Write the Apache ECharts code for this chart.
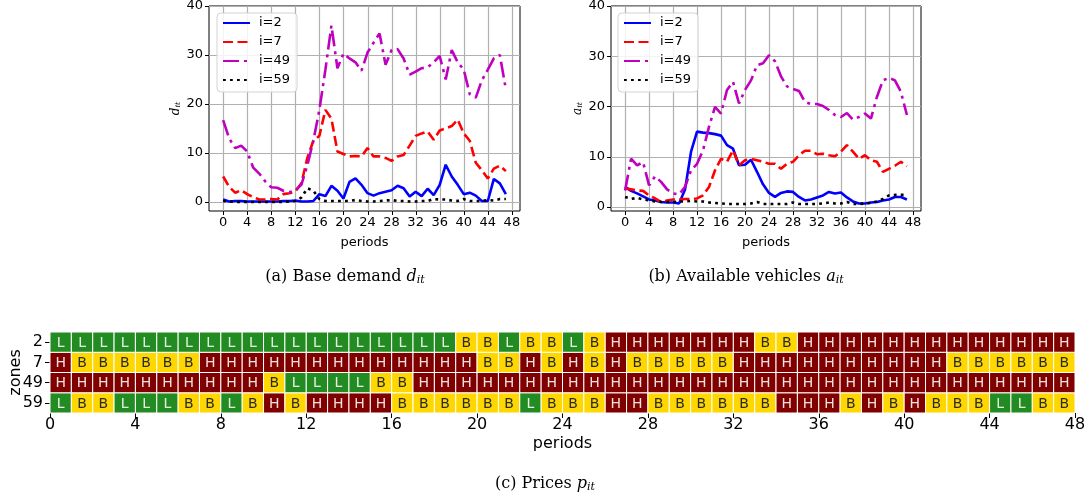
<!DOCTYPE html>
<html><head><meta charset="utf-8">
<script src="https://cdn.jsdelivr.net/npm/echarts@6/dist/echarts.min.js"></script>
<style>html,body{margin:0;padding:0;background:#fff}#c{width:1089px;height:497px}</style>
</head><body><div id="c"></div>
<script>
// ---------- data ----------
const periods = Array.from({length: 48}, (_, k) => k);
const seriesNames = ['i=2', 'i=7', 'i=49', 'i=59'];
const xTicks = [0, 4, 8, 12, 16, 20, 24, 28, 32, 36, 40, 44, 48];
const yTicks = [0, 10, 20, 30, 40];

// (a) base demand d_it
const demand2  = [0.5,0.1,0.2,0.2,0.1,0.1,0.1,0.1,0.1,0.1,0.2,0.2,0.3,0.1,0.1,0.2,1.6,1.2,3.3,2.3,0.7,4.1,4.8,3.5,1.8,1.3,1.8,2.1,2.4,3.3,2.8,1.1,2.1,1.2,2.7,1.4,3.5,7.6,5.2,3.5,1.6,1.9,1.3,0.2,0.2,4.7,3.8,1.6];
const demand7  = [5.2,3.1,1.9,2.4,1.6,1.0,0.5,0.5,0.6,0.5,1.6,1.8,2.1,3.8,9.0,12.5,13.5,18.8,17.0,10.3,9.8,9.3,9.4,9.3,11.0,9.3,9.3,9.0,8.4,9.3,9.6,11.5,13.5,14.0,14.4,12.7,14.6,15.0,15.5,16.8,14.0,12.5,8.0,6.5,4.8,6.8,7.4,6.3];
const demand49 = [16.7,13.0,11.0,11.5,10.3,7.0,5.8,4.2,3.0,2.9,2.3,2.0,2.4,3.5,7.5,12.5,18.8,27.0,36.0,27.3,30.3,29.3,28.5,26.8,30.5,32.5,34.4,28.0,31.0,31.2,29.3,26.0,26.6,27.3,27.5,28.5,29.8,25.0,31.0,28.5,27.0,22.0,21.3,24.8,27.0,29.3,30.0,23.0];
const demand59 = [0.2,0.1,0.0,0.0,0.0,0.0,0.0,0.0,0.0,0.0,0.0,0.1,0.2,0.9,2.8,2.3,0.6,0.2,0.2,0.2,0.2,0.2,0.4,0.2,0.1,0.1,0.2,0.3,0.4,0.2,0.2,0.1,0.1,0.2,0.2,0.6,0.5,0.5,0.3,0.2,0.6,0.2,0.2,0.2,0.4,0.3,0.6,0.6];

// (b) available vehicles a_it
const avail2  = [4.0,3.2,2.7,2.1,1.5,1.3,1.0,0.9,0.9,0.7,3.5,11.0,15.0,14.8,14.7,14.5,14.2,12.3,11.6,8.3,8.4,9.4,7.0,4.5,2.8,2.0,2.8,3.1,3.0,2.0,1.3,1.5,1.9,2.3,3.0,2.7,2.9,1.9,1.1,0.7,0.7,0.9,1.0,1.3,1.5,2.0,2.0,1.5];
const avail7  = [3.7,3.5,3.3,3.2,2.3,1.7,1.0,1.3,1.5,1.5,1.6,1.6,1.7,2.3,4.0,7.3,9.6,9.0,11.3,8.3,9.3,9.6,9.3,9.0,8.6,8.6,7.6,8.6,9.0,10.3,11.2,11.2,10.5,10.6,10.3,10.1,11.0,12.3,11.0,9.6,10.3,9.3,9.0,7.0,7.6,8.2,9.0,8.1];
const avail49 = [3.3,9.6,8.3,8.9,4.3,6.1,5.0,3.5,2.7,2.5,4.0,7.3,8.6,11.3,16.0,19.9,18.6,23.3,24.9,20.6,23.3,25.2,28.2,28.6,30.2,29.0,26.0,24.0,23.5,23.1,20.9,20.5,20.5,20.1,19.3,18.3,17.9,18.7,17.4,17.9,18.6,17.6,21.9,25.2,25.7,25.2,22.9,18.3];
const avail59 = [2.0,1.6,1.8,1.5,1.3,1.1,1.0,1.0,1.0,1.1,1.1,1.2,1.1,1.1,0.9,0.8,0.7,0.6,0.6,0.6,0.6,0.7,1.0,0.6,0.6,0.6,0.6,0.6,0.9,0.6,0.6,0.6,0.6,0.7,0.9,0.7,0.7,1.0,0.6,0.6,0.7,0.8,1.1,1.6,2.3,2.4,2.4,2.4];

// (c) prices p_it  (L = low, B = base, H = high)
const zones = ['59', '49', '7', '2'];   // bottom to top
const price2  = ['L','L','L','L','L','L','L','L','L','L','L','L','L','L','L','L','L','L','L','B','B','L','B','B','L','B','H','H','H','H','H','H','H','B','B','H','H','H','H','H','H','H','H','H','H','H','H','H'];
const price7  = ['H','B','B','B','B','B','B','H','H','H','H','H','H','H','H','H','H','H','H','H','B','B','H','B','H','B','H','B','B','B','B','B','H','H','H','H','H','H','H','H','H','H','B','B','B','B','B','B'];
const price49 = ['H','H','H','H','H','H','H','H','H','H','B','L','L','L','L','B','B','H','H','H','H','H','H','H','H','H','H','H','H','H','H','H','H','H','H','H','H','H','H','H','H','H','H','H','H','H','H','H'];
const price59 = ['L','B','B','L','L','L','B','B','L','B','H','B','H','H','H','H','B','B','B','B','B','B','L','B','B','B','H','H','B','B','B','B','B','B','H','H','H','B','H','B','H','B','B','B','L','L','B','B'];
const priceLevels = ['L', 'B', 'H'];

// ---------- styles ----------
const FONT = 'DejaVu Sans';
const lineStyles = [
  {color: '#0000ff', type: 'solid'},
  {color: '#ff0000', type: [10, 4.5]},
  {color: '#bf00bf', type: [16, 5, 3, 5]},
  {color: '#000000', type: [2.8, 4.2]}
];
const cellFill = ['#228b22', '#ffd700', '#800000'];
const cellText = ['rgba(255,255,255,0.88)', '#2a2a2a', 'rgba(255,255,255,0.88)'];

function lineSeries(gi, arr, k) {
  return {
    type: 'line', name: seriesNames[k], xAxisIndex: gi, yAxisIndex: gi,
    data: periods.map((t, j) => [t, arr[j]]),
    symbol: 'none', z: 3, clip: true, silent: true,
    emphasis: {disabled: true},
    lineStyle: {color: lineStyles[k].color, width: 2.6, type: lineStyles[k].type, cap: 'butt'},
    itemStyle: {color: lineStyles[k].color}
  };
}
// vertical grid lines + outward tick marks at the bottom
function vGrid(gi) {
  return {
    type: 'custom', xAxisIndex: gi, yAxisIndex: gi, silent: true, z: 1, clip: false,
    data: xTicks.map(v => [v, 0]),
    renderItem: (params, api) => {
      const cs = params.coordSys;
      const p = api.coord([api.value(0), 0]);
      const x = Math.round(p[0]) + 0.5;
      const yb = cs.y + cs.height;
      return {type: 'group', children: [
        {type: 'line', shape: {x1: x, y1: cs.y, x2: x, y2: yb}, style: {stroke: '#b0b0b0', lineWidth: 1.2}},
        {type: 'line', shape: {x1: x, y1: yb, x2: x, y2: yb + 4}, style: {stroke: '#000', lineWidth: 1}}
      ]};
    }
  };
}
// horizontal grid lines + outward tick marks on the left
function hGrid(gi) {
  return {
    type: 'custom', xAxisIndex: gi, yAxisIndex: gi, silent: true, z: 1, clip: false,
    data: yTicks.map(v => [0, v]),
    renderItem: (params, api) => {
      const cs = params.coordSys;
      const p = api.coord([0, api.value(1)]);
      const y = Math.round(p[1]) + 0.5;
      return {type: 'group', children: [
        {type: 'line', shape: {x1: cs.x, y1: y, x2: cs.x + cs.width, y2: y}, style: {stroke: '#b0b0b0', lineWidth: 1.2}},
        {type: 'line', shape: {x1: cs.x - 4, y1: y, x2: cs.x, y2: y}, style: {stroke: '#000', lineWidth: 1}}
      ]};
    }
  };
}
function topX(gi) {
  return {
    type: 'value', gridIndex: gi, min: -2.35, max: 49.35,
    axisLine: {show: false}, splitLine: {show: false}, axisTick: {show: false},
    axisLabel: {customValues: xTicks, fontSize: 13, color: '#000', fontFamily: FONT, margin: 5},
    name: 'periods', nameLocation: 'middle', nameGap: 25, nameMoveOverlap: false,
    nameTextStyle: {fontSize: 13, color: '#000', fontFamily: FONT}
  };
}
function topY(gi, min, letter) {
  return {
    type: 'value', gridIndex: gi, min: min, max: 40,
    axisLine: {show: false}, splitLine: {show: false}, axisTick: {show: false},
    axisLabel: {customValues: yTicks, fontSize: 13, color: '#000', fontFamily: FONT, margin: 6},
    name: '{a|' + letter + '}{b|it}', nameLocation: 'middle', nameGap: 27, nameRotate: 90,
    nameMoveOverlap: false,
    nameTextStyle: {rich: {
      a: {fontSize: 12, fontStyle: 'italic', fontFamily: 'DejaVu Serif', color: '#000'},
      b: {fontSize: 8, fontStyle: 'italic', fontFamily: 'DejaVu Serif', color: '#000', padding: [5, 0, 0, 0]}
    }}
  };
}
function legendAt(left) {
  return {
    left: left, top: 13, orient: 'vertical', selectedMode: false,
    data: seriesNames, itemWidth: 27, itemHeight: 14, itemGap: 5,
    padding: [3, 7, 5, 5],
    itemStyle: {opacity: 0},
    backgroundColor: 'rgba(255,255,255,0.85)', borderColor: '#d3d3d3', borderWidth: 1, borderRadius: 4,
    textStyle: {fontSize: 13, color: '#000', fontFamily: FONT, padding: [0, 0, 0, 4], lineHeight: 14}
  };
}

const priceRows = [price59, price49, price7, price2];
const heatData = [];
priceRows.forEach((row, r) => row.forEach((p, t) => heatData.push([t, r, priceLevels.indexOf(p)])));

const capRich = {
  n: {fontSize: 16, fontFamily: 'DejaVu Serif', color: '#000'},
  i: {fontSize: 16, fontFamily: 'DejaVu Serif', fontStyle: 'italic', color: '#000'},
  s: {fontSize: 11, fontFamily: 'DejaVu Serif', fontStyle: 'italic', color: '#000', padding: [7, 0, 0, 0]}
};
function caption(x, y, txt) {
  return {type: 'text', x: x, y: y, silent: true,
    style: {text: txt, rich: capRich, align: 'center', verticalAlign: 'middle',
            textAlign: 'center', textVerticalAlign: 'middle'}};
}

const gridBase = {outerBoundsMode: 'none', containLabel: false};
const option = {
  animation: false,
  backgroundColor: '#fff',
  grid: [
    Object.assign({left: 209, top: 6, width: 311, height: 205, show: true, borderColor: '#000', borderWidth: 1, backgroundColor: 'rgba(0,0,0,0)'}, gridBase),
    Object.assign({left: 611, top: 6, width: 310, height: 205, show: true, borderColor: '#000', borderWidth: 1, backgroundColor: 'rgba(0,0,0,0)'}, gridBase),
    Object.assign({left: 50, top: 332, width: 1025, height: 81}, gridBase)
  ],
  xAxis: [
    topX(0), topX(1),
    {type: 'value', gridIndex: 2, min: 0, max: 48, interval: 4,
     axisLine: {show: false}, splitLine: {show: false},
     axisTick: {show: true, length: 5, lineStyle: {color: '#000'}},
     axisLabel: {fontSize: 16, color: '#000', fontFamily: FONT, margin: 4},
     name: 'periods', nameLocation: 'middle', nameGap: 23, nameMoveOverlap: false,
     nameTextStyle: {fontSize: 16, color: '#000', fontFamily: FONT}}
  ],
  yAxis: [
    topY(0, -1.84, 'd'), topY(1, -0.8, 'a'),
    {type: 'category', gridIndex: 2, data: zones,
     axisLine: {show: false}, splitLine: {show: false},
     axisTick: {show: true, alignWithLabel: true, length: 5, lineStyle: {color: '#000'}},
     axisLabel: {fontSize: 16, color: '#000', fontFamily: FONT, margin: 7, interval: 0},
     name: 'zones', nameLocation: 'middle', nameGap: 26, nameRotate: 90, nameMoveOverlap: false,
     nameTextStyle: {fontSize: 16, color: '#000', fontFamily: FONT}}
  ],
  legend: [legendAt(217), legendAt(618)],
  series: [
    vGrid(0), hGrid(0), vGrid(1), hGrid(1),
    lineSeries(0, demand2, 0), lineSeries(0, demand7, 1), lineSeries(0, demand49, 2), lineSeries(0, demand59, 3),
    lineSeries(1, avail2, 0), lineSeries(1, avail7, 1), lineSeries(1, avail49, 2), lineSeries(1, avail59, 3),
    {type: 'custom', xAxisIndex: 2, yAxisIndex: 2, silent: true, data: heatData,
     renderItem: (params, api) => {
       const t = api.value(0), r = api.value(1), k = api.value(2);
       const p0 = api.coord([t, r]);
       const p1 = api.coord([t + 1, r]);
       const h = api.size([0, 1])[1];
       const x = p0[0], w = p1[0] - p0[0], y = p0[1] - h / 2;
       return {type: 'group', children: [
         {type: 'rect', shape: {x: x, y: y, width: w, height: h},
          style: {fill: cellFill[k], stroke: '#ffffff', lineWidth: 1}},
         {type: 'text', style: {text: priceLevels[k], x: x + w / 2, y: p0[1] + 1,
          align: 'center', verticalAlign: 'middle', textAlign: 'center', textVerticalAlign: 'middle',
          fill: cellText[k], fontSize: 14, fontFamily: FONT}}
       ]};
     }}
  ],
  graphic: [
    caption(345, 277, '{n|(a) Base demand }{i|d}{s|it}'),
    caption(746, 277, '{n|(b) Available vehicles }{i|a}{s|it}'),
    caption(545, 484, '{n|(c) Prices }{i|p}{s|it}')
  ]
};

const chart = echarts.init(document.getElementById('c'), null, {renderer: 'canvas'});
chart.setOption(option);
</script></body></html>
